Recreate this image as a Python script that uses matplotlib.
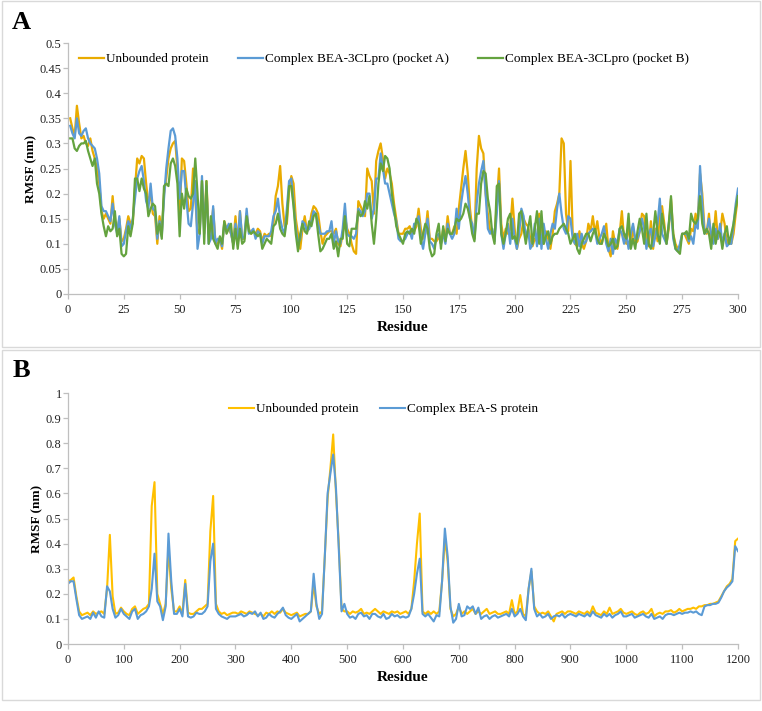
import matplotlib
matplotlib.use("Agg")
import matplotlib.pyplot as plt
from matplotlib.patches import Rectangle
from matplotlib.ticker import FuncFormatter

plt.rcParams['font.family'] = ['Liberation Serif', 'DejaVu Serif']

# ---- Panel A: 3CLpro RMSF per residue (1..300) ----
res_a = list(range(1, 301))

unbound_a = [
    0.35, 0.33, 0.315, 0.375, 0.34, 0.31, 0.315, 0.30, 0.295, 0.31,
    0.285, 0.27, 0.25, 0.22, 0.165, 0.15, 0.16, 0.15, 0.14, 0.195,
    0.14, 0.125, 0.15, 0.105, 0.11, 0.13, 0.155, 0.14, 0.14, 0.21,
    0.27, 0.26, 0.275, 0.27, 0.22, 0.18, 0.2, 0.16, 0.155, 0.10,
    0.155, 0.12, 0.2, 0.23, 0.27, 0.29, 0.30, 0.305, 0.25, 0.15,
    0.27, 0.265, 0.22, 0.165, 0.17, 0.25, 0.19, 0.12, 0.13, 0.225,
    0.13, 0.225, 0.12, 0.13, 0.17, 0.105, 0.10, 0.11, 0.09, 0.145,
    0.13, 0.13, 0.12, 0.10, 0.155, 0.10, 0.165, 0.11, 0.11, 0.16,
    0.13, 0.12, 0.125, 0.12, 0.13, 0.125, 0.105, 0.12, 0.115, 0.12,
    0.115, 0.14, 0.195, 0.215, 0.255, 0.18, 0.135, 0.14, 0.205, 0.235,
    0.22, 0.15, 0.12, 0.09, 0.13, 0.155, 0.125, 0.13, 0.16, 0.175,
    0.17, 0.16, 0.125, 0.10, 0.115, 0.12, 0.125, 0.125, 0.12, 0.13,
    0.10, 0.095, 0.12, 0.155, 0.13, 0.12, 0.10, 0.085, 0.08, 0.185,
    0.175, 0.165, 0.155, 0.25, 0.235, 0.225, 0.16, 0.265, 0.285, 0.30,
    0.27, 0.23, 0.25, 0.24, 0.22, 0.18, 0.15, 0.12, 0.12, 0.12,
    0.13, 0.13, 0.135, 0.12, 0.125, 0.135, 0.17, 0.13, 0.11, 0.12,
    0.165, 0.11, 0.11, 0.105, 0.105, 0.115, 0.10, 0.13, 0.11, 0.155,
    0.12, 0.12, 0.135, 0.12, 0.17, 0.21, 0.25, 0.285, 0.24, 0.17,
    0.13, 0.11, 0.25, 0.315, 0.29, 0.28, 0.2, 0.16, 0.125, 0.12,
    0.115, 0.18, 0.25, 0.14, 0.11, 0.13, 0.12, 0.13, 0.19, 0.13,
    0.09, 0.11, 0.12, 0.15, 0.14, 0.135, 0.11, 0.095, 0.11, 0.105,
    0.16, 0.12, 0.10, 0.125, 0.11, 0.09, 0.12, 0.165, 0.18, 0.20,
    0.31, 0.30, 0.16, 0.125, 0.265, 0.12, 0.10, 0.095, 0.125, 0.10,
    0.09, 0.105, 0.14, 0.125, 0.155, 0.12, 0.145, 0.11, 0.10, 0.12,
    0.14, 0.09, 0.075, 0.125, 0.10, 0.09, 0.12, 0.165, 0.11, 0.10,
    0.14, 0.095, 0.135, 0.10, 0.105, 0.125, 0.16, 0.155, 0.11, 0.095,
    0.145, 0.09, 0.13, 0.105, 0.155, 0.175, 0.14, 0.10, 0.13, 0.19,
    0.12, 0.10, 0.09, 0.095, 0.12, 0.12, 0.11, 0.10, 0.13, 0.125,
    0.16, 0.14, 0.24, 0.20, 0.13, 0.12, 0.16, 0.10, 0.11, 0.165,
    0.11, 0.12, 0.16, 0.14, 0.10, 0.11, 0.10, 0.12, 0.16, 0.195,
]

pocket_a = [
    0.335, 0.32, 0.31, 0.35, 0.32, 0.315, 0.325, 0.33, 0.31, 0.30,
    0.295, 0.29, 0.27, 0.24, 0.175, 0.165, 0.165, 0.155, 0.145, 0.18,
    0.14, 0.12, 0.155, 0.095, 0.10, 0.125, 0.145, 0.13, 0.15, 0.19,
    0.23, 0.245, 0.255, 0.225, 0.185, 0.17, 0.22, 0.17, 0.165, 0.11,
    0.145, 0.115, 0.19, 0.25, 0.29, 0.325, 0.33, 0.315, 0.27, 0.19,
    0.245, 0.245, 0.19, 0.14, 0.135, 0.18, 0.225, 0.09, 0.12, 0.235,
    0.12, 0.215, 0.10, 0.11, 0.175, 0.10, 0.11, 0.11, 0.095, 0.14,
    0.13, 0.14, 0.12, 0.10, 0.14, 0.10, 0.165, 0.11, 0.115, 0.17,
    0.12, 0.125, 0.13, 0.11, 0.125, 0.12, 0.10, 0.115, 0.115, 0.115,
    0.125, 0.155, 0.165, 0.19, 0.15, 0.13, 0.12, 0.17, 0.225, 0.23,
    0.18, 0.13, 0.10, 0.11, 0.145, 0.14, 0.125, 0.13, 0.145, 0.165,
    0.16, 0.14, 0.12, 0.12, 0.12, 0.125, 0.125, 0.145, 0.10, 0.125,
    0.105, 0.10, 0.13, 0.18, 0.12, 0.115, 0.115, 0.11, 0.12, 0.17,
    0.165, 0.155, 0.165, 0.2, 0.2, 0.15, 0.17, 0.23, 0.23, 0.28,
    0.25, 0.22, 0.22, 0.20, 0.18, 0.16, 0.145, 0.11, 0.105, 0.105,
    0.11, 0.12, 0.125, 0.11, 0.14, 0.14, 0.155, 0.11, 0.09, 0.12,
    0.15, 0.105, 0.10, 0.09, 0.115, 0.12, 0.10, 0.12, 0.10, 0.14,
    0.12, 0.11, 0.12, 0.17, 0.13, 0.18, 0.21, 0.235, 0.20, 0.15,
    0.14, 0.11, 0.18, 0.22, 0.245, 0.265, 0.2, 0.13, 0.12, 0.13,
    0.105, 0.16, 0.225, 0.12, 0.09, 0.12, 0.14, 0.10, 0.15, 0.11,
    0.09, 0.12, 0.17, 0.155, 0.11, 0.13, 0.09, 0.10, 0.14, 0.095,
    0.15, 0.09, 0.14, 0.11, 0.09, 0.12, 0.14, 0.13, 0.17, 0.20,
    0.16, 0.13, 0.12, 0.155, 0.15, 0.11, 0.10, 0.12, 0.095, 0.12,
    0.10, 0.105, 0.12, 0.125, 0.13, 0.125, 0.10, 0.11, 0.12, 0.135,
    0.10, 0.085, 0.11, 0.08, 0.11, 0.10, 0.13, 0.12, 0.10, 0.12,
    0.09, 0.12, 0.14, 0.11, 0.11, 0.125, 0.15, 0.13, 0.09, 0.12,
    0.13, 0.095, 0.115, 0.14, 0.19, 0.12, 0.11, 0.10, 0.14, 0.17,
    0.11, 0.09, 0.085, 0.10, 0.12, 0.12, 0.12, 0.105, 0.115, 0.10,
    0.14, 0.13, 0.255, 0.18, 0.12, 0.125, 0.15, 0.12, 0.10, 0.13,
    0.11, 0.14, 0.10, 0.12, 0.095, 0.10, 0.10, 0.14, 0.18, 0.21,
]

pocket_b = [
    0.31, 0.31, 0.29, 0.285, 0.295, 0.30, 0.30, 0.305, 0.285, 0.27,
    0.255, 0.27, 0.22, 0.20, 0.16, 0.135, 0.115, 0.135, 0.125, 0.13,
    0.165, 0.115, 0.13, 0.08, 0.075, 0.08, 0.135, 0.115, 0.14, 0.23,
    0.23, 0.205, 0.23, 0.21, 0.2, 0.155, 0.17, 0.18, 0.175, 0.12,
    0.14, 0.11, 0.215, 0.22, 0.215, 0.26, 0.27, 0.255, 0.22, 0.115,
    0.20, 0.17, 0.21, 0.195, 0.19, 0.20, 0.27, 0.20, 0.12, 0.225,
    0.10, 0.225, 0.10, 0.155, 0.11, 0.10, 0.09, 0.115, 0.10, 0.145,
    0.12, 0.13, 0.14, 0.09, 0.13, 0.09, 0.13, 0.10, 0.105, 0.155,
    0.125, 0.12, 0.125, 0.12, 0.115, 0.12, 0.09, 0.10, 0.11, 0.105,
    0.10, 0.135, 0.14, 0.16, 0.13, 0.12, 0.115, 0.15, 0.215, 0.215,
    0.175, 0.12, 0.085, 0.12, 0.14, 0.125, 0.12, 0.145, 0.135, 0.155,
    0.16, 0.12, 0.085, 0.09, 0.10, 0.11, 0.11, 0.12, 0.09, 0.105,
    0.075, 0.11, 0.11, 0.155, 0.10, 0.095, 0.13, 0.13, 0.13, 0.165,
    0.155, 0.16, 0.185, 0.17, 0.195, 0.14, 0.10, 0.15, 0.22, 0.26,
    0.245, 0.275, 0.27, 0.25, 0.20, 0.17, 0.135, 0.12, 0.11, 0.10,
    0.12, 0.125, 0.12, 0.13, 0.12, 0.15, 0.14, 0.10, 0.12, 0.14,
    0.13, 0.09, 0.075, 0.08, 0.12, 0.14, 0.09, 0.135, 0.105, 0.13,
    0.12, 0.12, 0.13, 0.15, 0.145, 0.15, 0.16, 0.18, 0.17, 0.15,
    0.12, 0.105, 0.16, 0.16, 0.22, 0.245, 0.24, 0.19, 0.165, 0.12,
    0.10, 0.215, 0.22, 0.12, 0.10, 0.12, 0.15, 0.16, 0.11, 0.115,
    0.10, 0.16, 0.165, 0.13, 0.10, 0.13, 0.155, 0.10, 0.13, 0.165,
    0.10, 0.165, 0.10, 0.115, 0.125, 0.10, 0.115, 0.12, 0.12, 0.13,
    0.135, 0.14, 0.13, 0.12, 0.10, 0.11, 0.12, 0.09, 0.08, 0.10,
    0.11, 0.12, 0.12, 0.105, 0.12, 0.13, 0.11, 0.10, 0.10, 0.12,
    0.11, 0.095, 0.10, 0.11, 0.09, 0.095, 0.13, 0.135, 0.12, 0.11,
    0.16, 0.09, 0.11, 0.09, 0.125, 0.15, 0.13, 0.10, 0.16, 0.10,
    0.09, 0.12, 0.165, 0.12, 0.10, 0.16, 0.13, 0.10, 0.14, 0.195,
    0.12, 0.09, 0.085, 0.08, 0.12, 0.12, 0.125, 0.11, 0.16, 0.145,
    0.14, 0.15, 0.195, 0.14, 0.12, 0.13, 0.12, 0.09, 0.14, 0.10,
    0.125, 0.12, 0.09, 0.12, 0.135, 0.10, 0.12, 0.14, 0.17, 0.195,
]

# ---- Panel B: S protein RMSF, sampled every 5 residues (0..1200) ----
res_b = list(range(0, 1201, 5))

unbound_b = [
    0.25, 0.255, 0.265, 0.19, 0.13, 0.115, 0.12, 0.125, 0.115, 0.13,
    0.12, 0.125, 0.13, 0.12, 0.22, 0.435, 0.19, 0.12, 0.125, 0.145,
    0.13, 0.12, 0.115, 0.14, 0.15, 0.12, 0.13, 0.14, 0.145, 0.16,
    0.55, 0.645, 0.20, 0.16, 0.12, 0.16, 0.38, 0.22, 0.13, 0.13,
    0.15, 0.12, 0.255, 0.125, 0.12, 0.12, 0.13, 0.14, 0.14, 0.15,
    0.16, 0.45, 0.59, 0.16, 0.13, 0.12, 0.125, 0.115, 0.12, 0.125,
    0.125, 0.12, 0.13, 0.125, 0.12, 0.13, 0.125, 0.12, 0.115, 0.12,
    0.11, 0.125, 0.12, 0.13, 0.12, 0.13, 0.125, 0.14, 0.125, 0.12,
    0.115, 0.12, 0.125, 0.11, 0.115, 0.12, 0.12, 0.13, 0.24, 0.15,
    0.12, 0.13, 0.35, 0.58, 0.70, 0.835, 0.60, 0.40, 0.14, 0.13,
    0.13, 0.12, 0.13, 0.125, 0.13, 0.14, 0.12, 0.125, 0.12, 0.13,
    0.14, 0.13, 0.12, 0.13, 0.125, 0.12, 0.13, 0.125, 0.13, 0.12,
    0.125, 0.13, 0.12, 0.14, 0.25, 0.40, 0.52, 0.13, 0.12, 0.13,
    0.12, 0.13, 0.12, 0.13, 0.25, 0.42, 0.33, 0.14, 0.11, 0.12,
    0.15, 0.12, 0.13, 0.12, 0.13, 0.14, 0.12, 0.13, 0.12, 0.13,
    0.14, 0.12, 0.125, 0.13, 0.12, 0.12, 0.125, 0.13, 0.12, 0.175,
    0.12, 0.13, 0.195, 0.12, 0.11, 0.22, 0.29, 0.15, 0.13, 0.12,
    0.125, 0.12, 0.13, 0.11, 0.09, 0.12, 0.125, 0.13, 0.12, 0.13,
    0.13, 0.125, 0.12, 0.13, 0.125, 0.12, 0.13, 0.12, 0.15, 0.125,
    0.12, 0.115, 0.13, 0.12, 0.145, 0.12, 0.125, 0.13, 0.14, 0.125,
    0.12, 0.125, 0.13, 0.12, 0.115, 0.125, 0.13, 0.12, 0.125, 0.14,
    0.11, 0.12, 0.125, 0.12, 0.13, 0.13, 0.135, 0.125, 0.13, 0.14,
    0.13, 0.135, 0.14, 0.14, 0.145, 0.14, 0.15, 0.15, 0.155, 0.155,
    0.16, 0.16, 0.165, 0.17, 0.19, 0.21, 0.23, 0.24, 0.26, 0.41,
    0.42,
]

complex_b = [
    0.24, 0.25, 0.25, 0.18, 0.115, 0.10, 0.105, 0.11, 0.10, 0.125,
    0.105, 0.13, 0.11, 0.105, 0.23, 0.21, 0.14, 0.105, 0.115, 0.14,
    0.12, 0.11, 0.10, 0.13, 0.14, 0.10, 0.115, 0.12, 0.13, 0.15,
    0.22, 0.36, 0.17, 0.15, 0.095, 0.15, 0.44, 0.25, 0.12, 0.12,
    0.14, 0.11, 0.24, 0.11, 0.105, 0.11, 0.125, 0.12, 0.12, 0.13,
    0.15, 0.33, 0.40, 0.14, 0.12, 0.11, 0.105, 0.10, 0.11, 0.11,
    0.11, 0.115, 0.12, 0.11, 0.115, 0.125, 0.12, 0.13, 0.11, 0.125,
    0.10, 0.105, 0.12, 0.11, 0.105, 0.12, 0.13, 0.145, 0.115, 0.105,
    0.10, 0.11, 0.12, 0.09, 0.10, 0.11, 0.12, 0.13, 0.28, 0.16,
    0.10, 0.12, 0.35, 0.60, 0.68, 0.755, 0.62, 0.38, 0.13, 0.16,
    0.12, 0.105, 0.11, 0.10, 0.12, 0.125, 0.11, 0.115, 0.10, 0.12,
    0.12, 0.11, 0.105, 0.12, 0.10, 0.105, 0.12, 0.11, 0.115, 0.105,
    0.11, 0.105, 0.11, 0.14, 0.20, 0.28, 0.34, 0.12, 0.11, 0.12,
    0.105, 0.09, 0.115, 0.11, 0.25, 0.46, 0.35, 0.15, 0.085, 0.10,
    0.16, 0.11, 0.115, 0.15, 0.14, 0.15, 0.12, 0.145, 0.10, 0.11,
    0.115, 0.10, 0.11, 0.115, 0.105, 0.11, 0.115, 0.12, 0.11, 0.14,
    0.11, 0.12, 0.14, 0.11, 0.095, 0.22, 0.30, 0.14, 0.11, 0.12,
    0.105, 0.11, 0.12, 0.10, 0.11, 0.115, 0.11, 0.12, 0.105, 0.115,
    0.12, 0.115, 0.11, 0.12, 0.115, 0.11, 0.12, 0.11, 0.13, 0.115,
    0.11, 0.105, 0.12, 0.11, 0.12, 0.105, 0.115, 0.12, 0.13, 0.11,
    0.11, 0.115, 0.12, 0.105, 0.11, 0.115, 0.12, 0.11, 0.105, 0.12,
    0.10, 0.105, 0.11, 0.10, 0.115, 0.12, 0.12, 0.115, 0.12, 0.125,
    0.12, 0.125, 0.125, 0.13, 0.125, 0.13, 0.12, 0.115, 0.15, 0.155,
    0.155, 0.16, 0.16, 0.165, 0.185, 0.21, 0.225, 0.235, 0.25, 0.39,
    0.37,
]

YELLOW_A = '#E9AB00'
YELLOW_B = '#FFC000'
BLUE = '#5B9BD5'
GREEN = '#64A33F'
AXIS_GRAY = '#BFBFBF'

fig = plt.figure(figsize=(7.62, 7.11), dpi=100)

# panel frames
for y0, h in [(0.512, 0.486), (0.016, 0.492)]:
    fig.patches.append(Rectangle((0.002, y0), 0.996, h, transform=fig.transFigure,
                                 fill=False, edgecolor='#D9D9D9', linewidth=1.0))


def style_axes(ax):
    for side in ['top', 'right']:
        ax.spines[side].set_visible(False)
    for side in ['left', 'bottom']:
        ax.spines[side].set_color(AXIS_GRAY)
        ax.spines[side].set_linewidth(0.9)
    ax.tick_params(axis='both', colors=AXIS_GRAY, labelcolor='#222222',
                   labelsize=9, length=3.5, width=0.9, direction='out')
    ax.tick_params(axis='y', pad=1)
    ax.yaxis.set_major_formatter(FuncFormatter(lambda v, p: f"{v:g}"))


ax1 = fig.add_axes([0.0892, 0.5865, 0.8793, 0.353])
ax1.plot(res_a, unbound_a, color=YELLOW_A, lw=1.6, label='Unbounded protein')
ax1.plot(res_a, pocket_a, color=BLUE, lw=1.6, label='Complex BEA-3CLpro (pocket A)')
ax1.plot(res_a, pocket_b, color=GREEN, lw=1.6, label='Complex BEA-3CLpro (pocket B)')
ax1.set_xlim(0, 300)
ax1.set_ylim(0, 0.5)
ax1.set_xticks(range(0, 301, 25))
ax1.set_yticks([i * 0.05 for i in range(11)])
style_axes(ax1)
ax1.set_xlabel('Residue', fontsize=11, fontweight='bold', labelpad=4)
ax1.set_ylabel('RMSF (nm)', fontsize=9.5, fontweight='bold', labelpad=2)
ax1.legend(loc='center left', bbox_to_anchor=(0.017, 0.936), ncol=3, frameon=False,
           fontsize=9.5, handlelength=1.9, handletextpad=0.15, columnspacing=2.2,
           borderaxespad=0, borderpad=0)

ax2 = fig.add_axes([0.0892, 0.0942, 0.8793, 0.353])
ax2.plot(res_b, unbound_b, color=YELLOW_B, lw=1.5, label='Unbounded protein')
ax2.plot(res_b, complex_b, color=BLUE, lw=1.5, label='Complex BEA-S protein')
ax2.set_xlim(0, 1200)
ax2.set_ylim(0, 1)
ax2.set_xticks(range(0, 1201, 100))
ax2.set_yticks([i * 0.1 for i in range(11)])
style_axes(ax2)
ax2.set_xlabel('Residue', fontsize=11, fontweight='bold', labelpad=4)
ax2.set_ylabel('RMSF (nm)', fontsize=9.5, fontweight='bold', labelpad=2)
ax2.legend(loc='center left', bbox_to_anchor=(0.24, 0.936), ncol=2, frameon=False,
           fontsize=9.5, handlelength=1.9, handletextpad=0.15, columnspacing=1.6,
           borderaxespad=0, borderpad=0)

fig.text(0.016, 0.985, 'A', fontsize=19, fontweight='bold', va='top', ha='left')
fig.text(0.016, 0.495, 'B', fontsize=19, fontweight='bold', va='top', ha='left')

fig.savefig('out.png', dpi=100)
